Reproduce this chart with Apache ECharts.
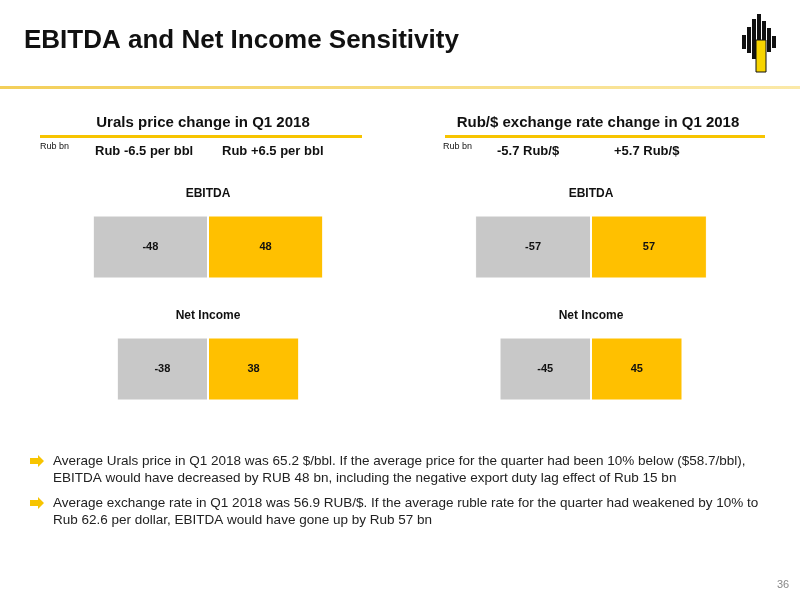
<!DOCTYPE html>
<html><head><meta charset="utf-8">
<script src="https://cdn.jsdelivr.net/npm/echarts@6/dist/echarts.min.js"></script>
<style>html,body{margin:0;padding:0;background:#fff}#c{width:800px;height:600px}</style>
</head><body><div id="c"></div>
<script>
const categories = ['EBITDA', 'Net Income'];
const uralsDown = [-48, -38];
const uralsUp = [48, 38];
const rubDown = [-57, -45];
const rubUp = [57, 45];

const chart = echarts.init(document.getElementById('c'));
const F = 'Liberation Sans, Arial, sans-serif';
function grid(left, width){return {left:left, width:width, top:186, height:244};}
function bar(data, color, gi, stack){
  return {type:'bar', data:data, xAxisIndex:gi, yAxisIndex:gi, stack:stack, barWidth:63,
    itemStyle:{color:color, borderColor:'#fff', borderWidth:1},
    label:{show:true, position:'inside', color:'#111', fontSize:11, fontWeight:'bold', fontFamily:F}};
}
const t = (x,y,text,size,weight,extra)=>Object.assign({type:'text', x:x, y:y, style:Object.assign({text:text, font:(weight||'normal')+' '+size+'px '+F, fill:'#111'}, extra||{})});
const graphics = [
  t(24,28,'EBITDA and Net Income Sensitivity',26,'bold'),
  {type:'rect', shape:{x:0,y:86,width:800,height:3}, style:{fill:new echarts.graphic.LinearGradient(0,0,1,0,[{offset:0,color:'#f3cf5a'},{offset:1,color:'#fbe9a8'}])}},
  t(203,115,'Urals price change in Q1 2018',15,'bold',{textAlign:'center'}),
  t(598,115,'Rub/$ exchange rate change in Q1 2018',15,'bold',{textAlign:'center'}),
  {type:'rect', shape:{x:40,y:135,width:322,height:3}, style:{fill:'#f7c400'}},
  {type:'rect', shape:{x:445,y:135,width:320,height:3}, style:{fill:'#f7c400'}},
  t(40,142,'Rub bn',9,'normal'), t(443,142,'Rub bn',9,'normal'),
  t(95,145,'Rub -6.5 per bbl',13,'bold'), t(222,145,'Rub +6.5 per bbl',13,'bold'),
  t(497,145,'-5.7 Rub/$',13,'bold'), t(614,145,'+5.7 Rub/$',13,'bold'),
  t(208,188,'EBITDA',12,'bold',{textAlign:'center'}), t(591,188,'EBITDA',12,'bold',{textAlign:'center'}),
  t(208,310,'Net Income',12,'bold',{textAlign:'center'}), t(591,310,'Net Income',12,'bold',{textAlign:'center'}),
  {type:'polygon', shape:{points:[[30,458],[38,458],[38,455],[44,461],[38,467],[38,464],[30,464]]}, style:{fill:'#f7c400'}},
  {type:'polygon', shape:{points:[[30,500],[38,500],[38,497],[44,503],[38,509],[38,506],[30,506]]}, style:{fill:'#f7c400'}},
  t(53,454,'Average Urals price in Q1 2018 was 65.2 $/bbl. If the average price for the quarter had been 10% below ($58.7/bbl),',13.5,'normal',{fill:'#222'}),
  t(53,471,'EBITDA would have decreased by RUB 48 bn, including the negative export duty lag effect of Rub 15 bn',13.5,'normal',{fill:'#222'}),
  t(53,496,'Average exchange rate in Q1 2018 was 56.9 RUB/$. If the average ruble rate for the quarter had weakened by 10% to',13.5,'normal',{fill:'#222'}),
  t(53,513,'Rub 62.6 per dollar, EBITDA would have gone up by Rub 57 bn',13.5,'normal',{fill:'#222'}),
  t(777,579,'36',11,'normal',{fill:'#888'}),
  {type:'rect', shape:{x:742,y:35,width:4,height:14}, style:{fill:'#111'}},
  {type:'rect', shape:{x:747,y:27,width:4,height:26}, style:{fill:'#111'}},
  {type:'rect', shape:{x:752,y:19,width:4,height:40}, style:{fill:'#111'}},
  {type:'rect', shape:{x:757,y:14,width:4,height:30}, style:{fill:'#111'}},
  {type:'rect', shape:{x:762,y:21,width:4,height:38}, style:{fill:'#111'}},
  {type:'rect', shape:{x:767,y:28,width:4,height:24}, style:{fill:'#111'}},
  {type:'rect', shape:{x:772,y:36,width:4,height:12}, style:{fill:'#111'}},
  {type:'rect', shape:{x:756,y:40,width:10,height:32}, style:{fill:'#f7d400', stroke:'#111', lineWidth:1}}
];
chart.setOption({
  animation:false,
  grid:[grid(64,288), grid(469,244)],
  xAxis:[0,1].map(i=>({type:'value', gridIndex:i, min:-60, max:60, show:false})),
  yAxis:[0,1].map(i=>({type:'category', gridIndex:i, data:categories, inverse:true, show:false})),
  series:[bar(uralsDown,'#c8c8c8',0,'a'), bar(uralsUp,'#ffc000',0,'a'),
          bar(rubDown,'#c8c8c8',1,'b'), bar(rubUp,'#ffc000',1,'b')],
  graphic:graphics
});
</script></body></html>
